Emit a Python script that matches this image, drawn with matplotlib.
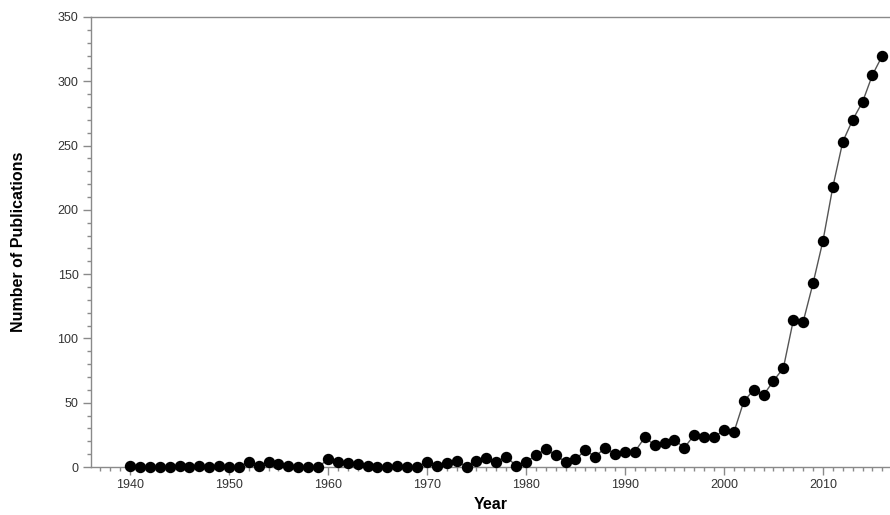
import numpy as np
import matplotlib.pyplot as plt
from matplotlib.ticker import MultipleLocator

plt.rcParams['font.family'] = ['Liberation Sans', 'DejaVu Sans']

# publications per year
years = np.arange(1940, 2017)
counts = [1, 0, 0, 0, 0, 1, 0, 1, 0, 1,       # 1940s
          0, 0, 4, 1, 4, 2, 1, 0, 0, 0,       # 1950s
          6, 4, 3, 2, 1, 0, 0, 1, 0, 0,       # 1960s
          4, 1, 3, 5, 0, 5, 7, 4, 8, 1,       # 1970s
          4, 9, 14, 9, 4, 6, 13, 8, 15, 10,   # 1980s
          12, 12, 23, 17, 19, 21, 15, 25, 23, 23,  # 1990s
          29, 27, 51, 60, 56, 67, 77, 114, 113, 143,  # 2000s
          176, 218, 253, 270, 284, 305, 320]  # 2010s

fig = plt.figure(figsize=(8.9, 5.15), dpi=100)
ax = fig.add_axes([91/890, 48/515, 1 - 91/890, 450/515])

ax.plot(years, counts, color='#555555', lw=1.0, marker='o', ms=7.2,
        mfc='black', mec='black', zorder=3, clip_on=False)

ax.set_xlim(1936.06, 2016.77)
ax.set_ylim(0, 350)

ax.xaxis.set_major_locator(MultipleLocator(10))
ax.xaxis.set_minor_locator(MultipleLocator(1))
ax.yaxis.set_major_locator(MultipleLocator(50))
ax.yaxis.set_minor_locator(MultipleLocator(10))

spine_col = '#8a8a8a'
for side in ['left', 'bottom', 'top']:
    ax.spines[side].set_color(spine_col)
    ax.spines[side].set_linewidth(1.0)
ax.spines['right'].set_visible(False)

ax.tick_params(which='major', direction='out', length=6, width=1,
               color=spine_col, labelsize=9, labelcolor='#333333', pad=3)
ax.tick_params(which='minor', direction='out', length=3, width=1, color=spine_col)
ax.tick_params(top=False, right=False, which='both')

ax.set_xlabel('Year', fontsize=11.5, fontweight='bold', labelpad=4)
ax.set_ylabel('Number of Publications', fontsize=11.5, fontweight='bold', labelpad=23)

fig.savefig('out.png', dpi=100)
